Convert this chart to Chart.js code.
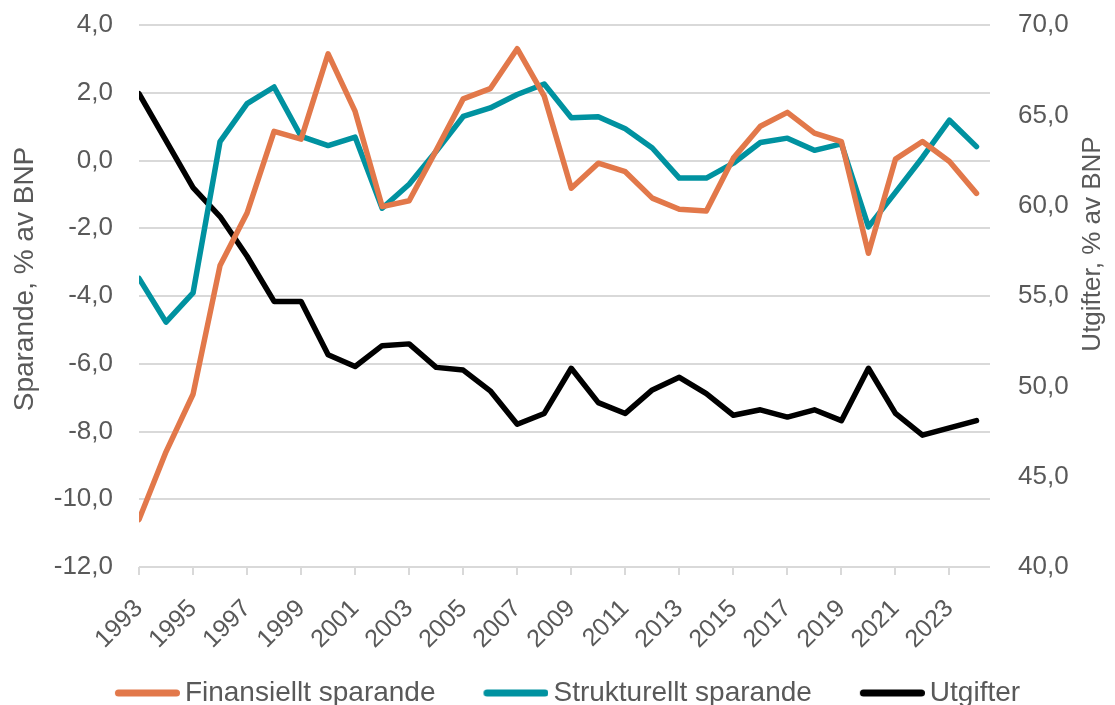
<!DOCTYPE html>
<html lang="sv">
<head>
  <meta charset="UTF-8">
  <title>Sparande och utgifter, % av BNP</title>
  <style>
    html, body {
      margin: 0;
      padding: 0;
      background: white;
    }
    .chart-container {
      width: 1115px;
      height: 705px;
      position: relative;
    }
  </style>
</head>
<body>
  <div class="chart-container">
    <canvas id="chart"></canvas>
  </div>

  <script src="https://cdn.jsdelivr.net/npm/chart.js@4.4.1/dist/chart.umd.min.js"></script>
  <script>
    const YEARS = [
      1993, 1994, 1995, 1996, 1997, 1998, 1999, 2000, 2001, 2002, 2003,
      2004, 2005, 2006, 2007, 2008, 2009, 2010, 2011, 2012, 2013, 2014,
      2015, 2016, 2017, 2018, 2019, 2020, 2021, 2022, 2023, 2024
    ];
    const YEAR_TICKS = [
      1993, 1995, 1997, 1999, 2001, 2003, 2005, 2007,
      2009, 2011, 2013, 2015, 2017, 2019, 2021, 2023
    ];

    // Finansiellt sparande, % av BNP (vänster axel)
    const FINANSIELLT = [
      -10.6, -8.6, -6.9, -3.1, -1.55, 0.86, 0.63, 3.15, 1.45, -1.36, -1.19,
      0.3, 1.82, 2.12, 3.3, 1.9, -0.82, -0.08, -0.33, -1.11, -1.44, -1.49,
      0.07, 1.01, 1.42, 0.81, 0.56, -2.74, 0.04, 0.56, -0.03, -0.97
    ];
    // Strukturellt sparande, % av BNP (vänster axel)
    const STRUKTURELLT = [
      -3.48, -4.77, -3.91, 0.56, 1.68, 2.17, 0.71, 0.44, 0.69, -1.41, -0.7,
      0.27, 1.3, 1.55, 1.95, 2.26, 1.26, 1.29, 0.94, 0.37, -0.52, -0.52,
      -0.08, 0.53, 0.66, 0.3, 0.49, -1.96, -0.94, 0.09, 1.19, 0.41
    ];
    // Utgifter, % av BNP (höger axel)
    const UTGIFTER = [
      66.2, 63.6, 61.0, 59.4, 57.2, 54.7, 54.7, 51.75, 51.1, 52.25, 52.35,
      51.05, 50.9, 49.75, 47.9, 48.5, 51.0, 49.1, 48.5, 49.8, 50.5, 49.6,
      48.4, 48.7, 48.3, 48.7, 48.1, 51.0, 48.5, 47.3, 47.7, 48.1
    ];

    const COLORS = ['#E2784A', '#0092A0', '#000000'];
    const TEXT_COLOR = '#595959';
    const GRID_COLOR = '#d9d9d9';
    const FAMILY = '"Liberation Sans", Arial, sans-serif';
    const TICK_FONT = { family: FAMILY, size: 26 };
    const XTICK_FONT = { family: FAMILY, size: 25 };
    const LEGEND_FONT = { family: FAMILY, size: 28 };
    const LEFT_TITLE = 'Sparande, % av BNP';
    const RIGHT_TITLE = 'Utgifter, % av BNP';
    const LEFT_TITLE_FONT = { family: FAMILY, size: 28 };
    const RIGHT_TITLE_FONT = { family: FAMILY, size: 26 };

    // legend box: the line sits right next to the text, like in Excel
    const LEGEND_BOX_W = 76;
    function legendLine(color) {
      const c = document.createElement('canvas');
      c.width = LEGEND_BOX_W + 18;
      c.height = 12;
      const g = c.getContext('2d');
      g.strokeStyle = color;
      g.lineWidth = 7;
      g.lineCap = 'round';
      g.beginPath();
      g.moveTo(c.width - 65 + 3.5, 6);
      g.lineTo(c.width - 3.5, 6);
      g.stroke();
      return c;
    }

    const fmt = (v) => Number(v).toFixed(1).replace('.', ',');
    const toPoints = (vs) => vs.map((v, i) => ({ x: YEARS[i], y: v }));

    // fixed axis boxes so the plot area lands where the original has it
    const fixWidth = (w) => (axis) => {
      axis.width = w;
      axis.paddingTop = 0;
      axis.paddingBottom = 0;
    };

    // axis titles drawn by hand so both read bottom to top
    const axisTitlePlugin = {
      id: 'axisTitles',
      afterDraw(chart) {
        const ctx = chart.ctx;
        const l = chart.scales.y;
        const r = chart.scales.y1;
        const mid = (l.top + l.bottom) / 2;
        const draw = (text, font, x, y) => {
          ctx.save();
          ctx.translate(x, y);
          ctx.rotate(-Math.PI / 2);
          ctx.font = `${font.size}px ${font.family}`;
          ctx.fillStyle = TEXT_COLOR;
          ctx.textAlign = 'center';
          ctx.textBaseline = 'middle';
          ctx.fillText(text, 0, 0);
          ctx.restore();
        };
        draw(LEFT_TITLE, LEFT_TITLE_FONT, l.left + 25, mid - 17);
        draw(RIGHT_TITLE, RIGHT_TITLE_FONT, r.right - 22, mid - 52);
      }
    };

    const ctx = document.getElementById('chart');
    new Chart(ctx, {
      type: 'line',
      data: {
        datasets: [
          {
            label: 'Finansiellt sparande',
            data: toPoints(FINANSIELLT),
            borderColor: COLORS[0],
            backgroundColor: COLORS[0],
            pointStyle: legendLine(COLORS[0]),
            yAxisID: 'y'
          },
          {
            label: 'Strukturellt sparande',
            data: toPoints(STRUKTURELLT),
            borderColor: COLORS[1],
            backgroundColor: COLORS[1],
            pointStyle: legendLine(COLORS[1]),
            yAxisID: 'y'
          },
          {
            label: 'Utgifter',
            data: toPoints(UTGIFTER),
            borderColor: COLORS[2],
            backgroundColor: COLORS[2],
            pointStyle: legendLine(COLORS[2]),
            yAxisID: 'y1'
          }
        ]
      },
      plugins: [axisTitlePlugin],
      options: {
        responsive: true,
        maintainAspectRatio: false,
        animation: false,
        layout: {
          autoPadding: false,
          padding: { top: 25, left: 0, right: 0, bottom: -12 }
        },
        elements: {
          line: {
            borderWidth: 5.5,
            tension: 0,
            borderCapStyle: 'round',
            borderJoinStyle: 'round'
          },
          point: { radius: 0 }
        },
        scales: {
          x: {
            type: 'linear',
            min: 1993,
            max: 2024.5,
            afterBuildTicks: (axis) => {
              axis.ticks = YEAR_TICKS.map(v => ({ value: v }));
            },
            afterFit: (axis) => {
              axis.height = 84;
              axis.paddingLeft = 0;
              axis.paddingRight = 0;
            },
            grid: {
              drawOnChartArea: false,
              color: GRID_COLOR,
              lineWidth: 2,
              tickLength: 8
            },
            border: { display: false },
            ticks: {
              autoSkip: false,
              minRotation: 45,
              maxRotation: 45,
              color: TEXT_COLOR,
              font: XTICK_FONT,
              padding: 19,
              callback: (v) => String(v)
            }
          },
          y: {
            position: 'left',
            min: -12,
            max: 4,
            afterFit: fixWidth(139),
            grid: {
              color: GRID_COLOR,
              lineWidth: 2,
              drawTicks: false
            },
            border: { display: false },
            ticks: {
              stepSize: 2,
              color: TEXT_COLOR,
              font: TICK_FONT,
              padding: 26,
              callback: fmt
            }
          },
          y1: {
            position: 'right',
            min: 40,
            max: 70,
            afterFit: fixWidth(125),
            grid: { drawOnChartArea: false, drawTicks: false },
            border: { display: false },
            ticks: {
              stepSize: 5,
              color: TEXT_COLOR,
              font: TICK_FONT,
              padding: 28,
              callback: fmt
            }
          }
        },
        plugins: {
          legend: {
            position: 'bottom',
            labels: {
              usePointStyle: true,
              pointStyleWidth: LEGEND_BOX_W,
              boxHeight: 12,
              color: TEXT_COLOR,
              font: LEGEND_FONT,
              padding: 28
            }
          },
          tooltip: { enabled: false }
        }
      }
    });
  </script>
</body>
</html>
